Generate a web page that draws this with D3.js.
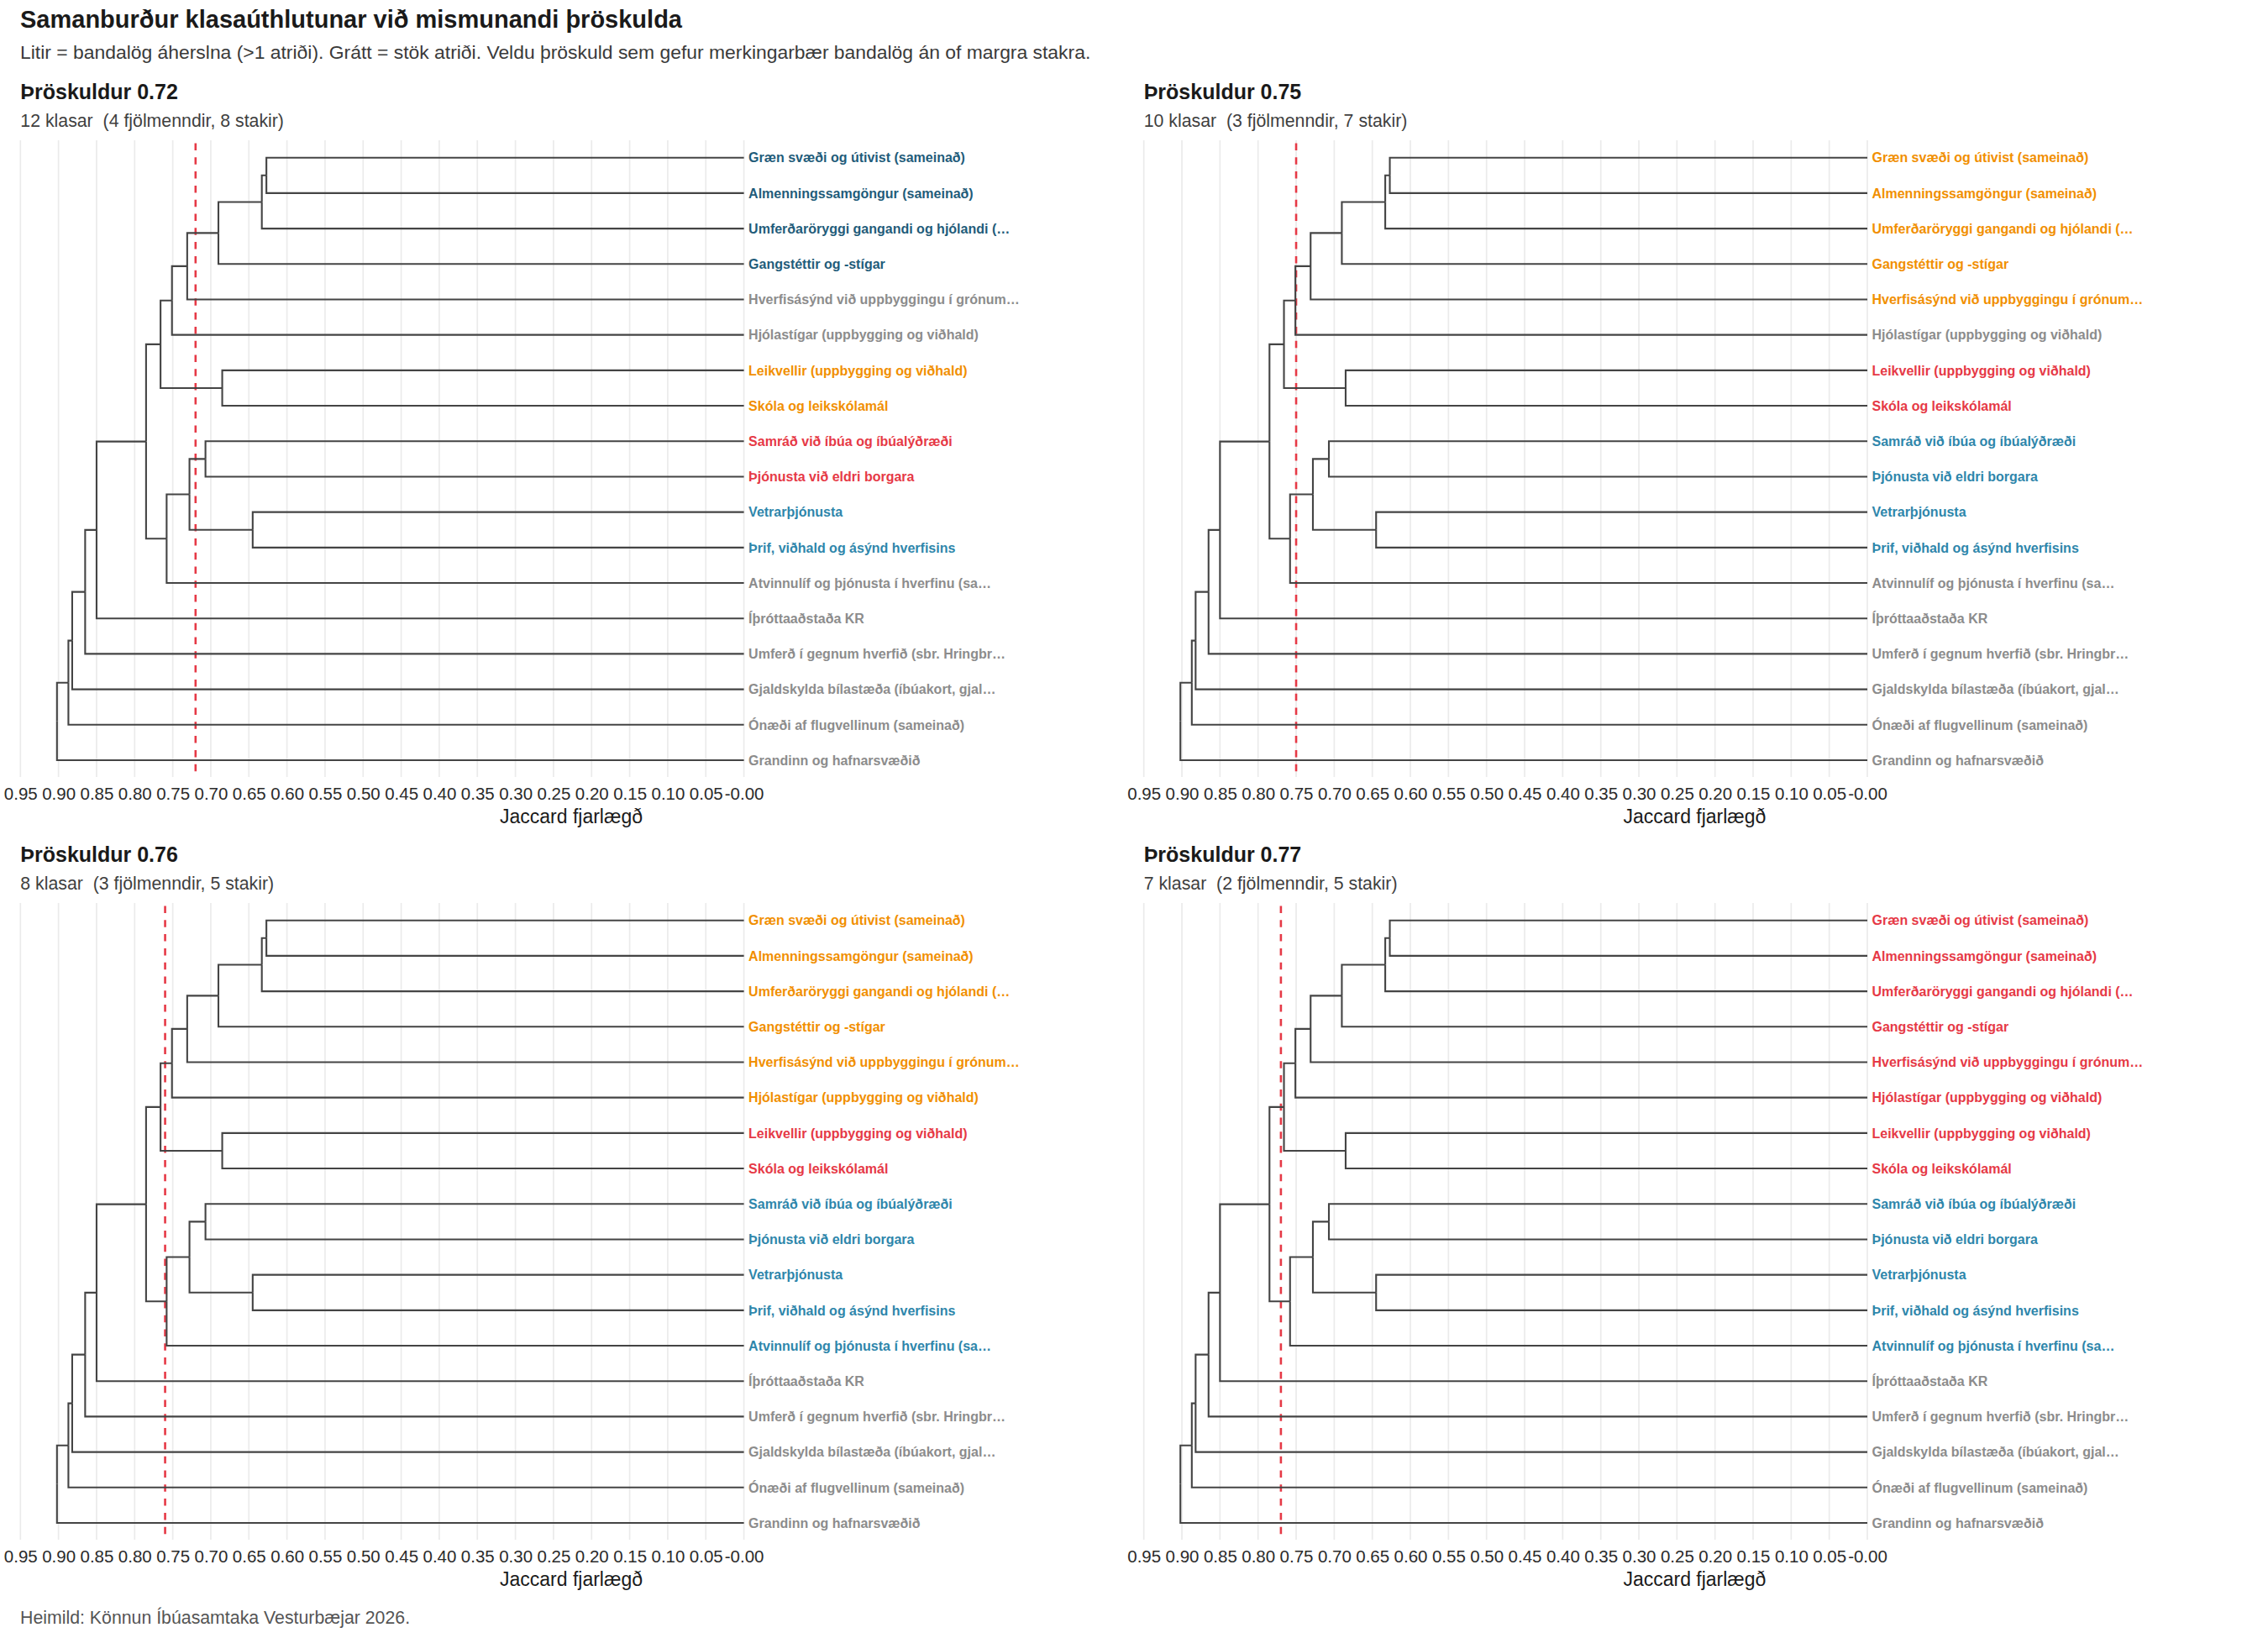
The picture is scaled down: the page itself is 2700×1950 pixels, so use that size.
<!DOCTYPE html>
<html><head><meta charset="utf-8">
<script src="https://cdn.jsdelivr.net/npm/d3@7"></script>
<style>
body{margin:0;background:#fff}
svg{display:block}
text{font-family:"Liberation Sans",Arial,Helvetica,sans-serif}
</style>
</head><body>
<svg id="chart" width="2700" height="1950"></svg>
<script>
// ---------- DATA ----------
const leafLabels = [
  "Græn svæði og útivist (sameinað)",
  "Almenningssamgöngur (sameinað)",
  "Umferðaröryggi gangandi og hjólandi (…",
  "Gangstéttir og -stígar",
  "Hverfisásýnd við uppbyggingu í grónum…",
  "Hjólastígar (uppbygging og viðhald)",
  "Leikvellir (uppbygging og viðhald)",
  "Skóla og leikskólamál",
  "Samráð við íbúa og íbúalýðræði",
  "Þjónusta við eldri borgara",
  "Vetrarþjónusta",
  "Þrif, viðhald og ásýnd hverfisins",
  "Atvinnulíf og þjónusta í hverfinu (sa…",
  "Íþróttaaðstaða KR",
  "Umferð í gegnum hverfið (sbr. Hringbr…",
  "Gjaldskylda bílastæða (íbúakort, gjal…",
  "Ónæði af flugvellinum (sameinað)",
  "Grandinn og hafnarsvæðið"
];
// linkage: merge k creates node id 18+k
const mergeLeft   = [0, 18, 10, 6, 19, 8, 23, 22, 25, 24, 26, 28, 29, 30, 31, 32, 33];
const mergeRight  = [1, 2, 11, 7, 3, 9, 20, 4, 5, 12, 21, 27, 13, 14, 15, 16, 17];
const mergeHeight = [0.627, 0.633, 0.645, 0.685, 0.690, 0.707, 0.728, 0.731, 0.751, 0.758, 0.766, 0.785, 0.850, 0.865, 0.882, 0.887, 0.902];

const thresholds = [0.72, 0.75, 0.76, 0.77];
const panelTitles = ["Þröskuldur 0.72", "Þröskuldur 0.75", "Þröskuldur 0.76", "Þröskuldur 0.77"];
const panelSubtitles = [
  "12 klasar  (4 fjölmenndir, 8 stakir)",
  "10 klasar  (3 fjölmenndir, 7 stakir)",
  "8 klasar  (3 fjölmenndir, 5 stakir)",
  "7 klasar  (2 fjölmenndir, 5 stakir)"
];
const clusterColors = [
  ["#1f5c7a", "#f18f01", "#e63946", "#2e86ab"],
  ["#f18f01", "#e63946", "#2e86ab"],
  ["#f18f01", "#e63946", "#2e86ab"],
  ["#e63946", "#2e86ab"]
];
const singletonColor = "#8c8c8c";

const tickValues = [0.95, 0.90, 0.85, 0.80, 0.75, 0.70, 0.65, 0.60, 0.55, 0.50, 0.45, 0.40, 0.35, 0.30, 0.25, 0.20, 0.15, 0.10, 0.05, 0.00];
const tickLabels = ["0.95","0.90","0.85","0.80","0.75","0.70","0.65","0.60","0.55","0.50","0.45","0.40","0.35","0.30","0.25","0.20","0.15","0.10","0.05","-0.00"];

const chartTitle = "Samanburður klasaúthlutunar við mismunandi þröskulda";
const chartSubtitle = "Litir = bandalög áherslna (>1 atriði). Grátt = stök atriði. Veldu þröskuld sem gefur merkingarbær bandalög án of margra stakra.";
const axisTitle = "Jaccard fjarlægð";
const caption = "Heimild: Könnun Íbúasamtaka Vesturbæjar 2026.";

// ---------- BUILD TREE ----------
const nodes = leafLabels.map((l, i) => ({id: i, label: l, h: 0, leafIndex: i}));
mergeHeight.forEach((h, k) => {
  nodes.push({id: 18 + k, h: h, children: [nodes[mergeLeft[k]], nodes[mergeRight[k]]]});
});
const rootData = nodes[nodes.length - 1];

// ---------- LAYOUT ----------
const svg = d3.select("#chart");
const colOffsets = [0, 1337.4];
const rowOffsets = [0, 908];
const plotLeft = 24.3, plotRight = 885.6;
const gridTop = 167, gridBottom = 925;
const leafTop = 187.7, leafBottom = 905;
const nLeaves = leafLabels.length;
const leafStep = (leafBottom - leafTop) / (nLeaves - 1);

svg.append("text").attr("x", 24).attr("y", 33)
  .attr("font-size", 29).attr("font-weight", "bold").attr("fill", "#1a1a1a").text(chartTitle);
svg.append("text").attr("x", 24).attr("y", 70)
  .attr("font-size", 22.9).attr("fill", "#3a3a3a").text(chartSubtitle);
svg.append("text").attr("x", 24).attr("y", 1933)
  .attr("font-size", 21.3).attr("fill", "#555").text(caption);

thresholds.forEach((t, p) => {
  const ox = colOffsets[p % 2], oy = rowOffsets[Math.floor(p / 2)];
  const g = svg.append("g").attr("transform", `translate(${ox},${oy})`);

  const x = d3.scaleLinear().domain([0.95, 0]).range([plotLeft, plotRight]);

  // gridlines
  g.append("g").selectAll("line").data(tickValues).join("line")
    .attr("x1", d => x(d)).attr("x2", d => x(d))
    .attr("y1", gridTop).attr("y2", gridBottom)
    .attr("stroke", "#ebebeb").attr("stroke-width", 1.7);

  // hierarchy + cluster layout (leaf spacing = leafStep, half-step padding removed)
  const root = d3.hierarchy(rootData, d => d.children);
  d3.cluster().size([leafStep * nLeaves, 1]).separation(() => 1)(root);
  const yPos = n => leafTop - leafStep / 2 + n.x;

  // threshold line
  g.append("line")
    .attr("x1", x(t)).attr("x2", x(t)).attr("y1", gridTop + 3.5).attr("y2", gridBottom)
    .attr("stroke", "#e63946").attr("stroke-width", 2.6).attr("stroke-dasharray", "8.5,8.3");

  // links (elbow)
  g.append("g").selectAll("path").data(root.links()).join("path")
    .attr("d", l => {
      const cx = x(l.target.data.h), cy = yPos(l.target);
      const px = x(l.source.data.h), py = yPos(l.source);
      return `M${cx},${cy}H${px}V${py}`;
    })
    .attr("fill", "none").attr("stroke", "#444").attr("stroke-width", 2.1);

  // clusters from cut
  const leafColor = new Array(nLeaves).fill(singletonColor);
  const clusterRoots = [];
  root.eachBefore(n => {
    if (n.data.h <= t && (!n.parent || n.parent.data.h > t)) clusterRoots.push(n);
  });
  let ci = 0;
  clusterRoots.forEach(cr => {
    const lv = cr.leaves();
    if (lv.length > 1) {
      const col = clusterColors[p][ci++];
      lv.forEach(l => leafColor[l.data.leafIndex] = col);
    }
  });

  // labels
  g.append("g").selectAll("text").data(root.leaves()).join("text")
    .attr("x", plotRight + 5.5).attr("y", d => yPos(d)).attr("dy", "0.36em")
    .attr("font-size", 16).attr("font-weight", "bold")
    .attr("fill", d => leafColor[d.data.leafIndex])
    .text(d => d.data.label);

  // axis
  const axis = d3.axisBottom(x).tickValues(tickValues)
    .tickFormat((d, i) => tickLabels[i]).tickSize(0).tickPadding(0);
  const ag = g.append("g").attr("transform", `translate(0,${gridBottom})`).call(axis);
  ag.select(".domain").remove();
  ag.selectAll("text").attr("y", 26.7).attr("dy", 0)
    .attr("font-size", 20.5).attr("fill", "#2b2b2b")
    .attr("font-family", "'Liberation Sans',Arial,Helvetica,sans-serif");

  g.append("text").attr("x", 680).attr("y", 979.5).attr("text-anchor", "middle")
    .attr("font-size", 23).attr("fill", "#1a1a1a").text(axisTitle);

  g.append("text").attr("x", plotLeft).attr("y", 117.5)
    .attr("font-size", 25).attr("font-weight", "bold").attr("fill", "#1a1a1a").text(panelTitles[p]);
  g.append("text").attr("x", plotLeft).attr("y", 150.5).style("white-space", "pre")
    .attr("font-size", 21.3).attr("fill", "#3f3f3f").text(panelSubtitles[p]);
});
</script>
</body></html>
